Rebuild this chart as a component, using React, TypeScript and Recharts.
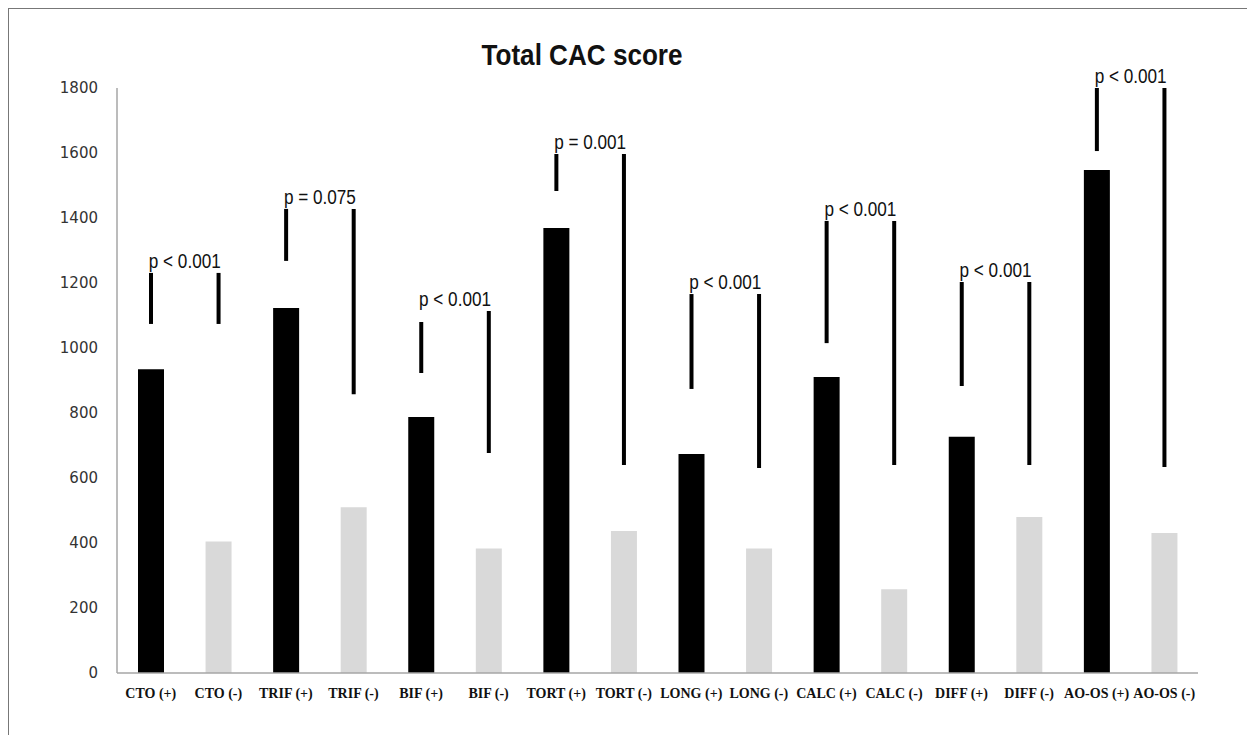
import { ComposedChart, Bar, Cell, XAxis, YAxis, LabelList } from "recharts";

const categories = [
  "CTO (+)", "CTO (-)", "TRIF (+)", "TRIF (-)", "BIF (+)", "BIF (-)", "TORT (+)", "TORT (-)",
  "LONG (+)", "LONG (-)", "CALC (+)", "CALC (-)", "DIFF (+)", "DIFF (-)", "AO-OS (+)", "AO-OS (-)",
];
const scores = [935, 405, 1123, 510, 788, 383, 1369, 437, 674, 383, 911, 258, 727, 480, 1548, 431];
const whiskerLow = [1074, 1074, 1268, 858, 923, 677, 1483, 640, 874, 631, 1015, 640, 883, 640, 1606, 634];
const whiskerHigh = [1231, 1231, 1428, 1428, 1080, 1114, 1597, 1597, 1166, 1166, 1391, 1391, 1203, 1203, 1800, 1800];
const pLabels = ["p < 0.001", "p = 0.075", "p < 0.001", "p = 0.001", "p < 0.001", "p < 0.001", "p < 0.001", "p < 0.001"];
const yTicks = [0, 200, 400, 600, 800, 1000, 1200, 1400, 1600, 1800];

const W = 1247;
const H = 727;
const margin = { top: 80, right: 57, bottom: 32, left: 49 };
const PLOT_W = W - margin.left - margin.right - 60;
const step = PLOT_W / categories.length;

const data = categories.map((name, i) => ({
  name,
  score: scores[i],
  whisker: [whiskerLow[i], whiskerHigh[i]],
}));

// p-value text sits centred over each (+)/(-) pair, just above the taller whisker
const PLabel = (props: any) => {
  const { x, y, width, height, index } = props;
  if (index % 2 === 0) return null;
  const top = Math.min(y, y + height);
  const cx = x + width / 2 - step / 2;
  return (
    <text
      x={cx}
      y={top - 5}
      textAnchor="middle"
      fontFamily="'Liberation Sans', Arial, sans-serif"
      fontSize={20}
      fill="#111"
      textLength={72}
      lengthAdjust="spacingAndGlyphs"
    >
      {pLabels[(index - 1) / 2]}
    </text>
  );
};

export default function App() {
  return (
    <div
      style={{
        position: "relative",
        width: W,
        height: H,
        borderTop: "1px solid #777",
        borderLeft: "1px solid #777",
        boxSizing: "border-box",
        background: "#fff",
      }}
    >
      <ComposedChart width={W} height={H} data={data} margin={margin} style={{ position: "absolute", left: -1, top: -1 }}>
        <XAxis
          dataKey="name"
          xAxisId="main"
          height={30}
          axisLine={{ stroke: "#a6a6a6", strokeWidth: 1.5 }}
          tickLine={false}
          tickMargin={9}
          interval={0}
          tick={{ fontFamily: "'Liberation Serif', 'Times New Roman', serif", fontWeight: 700, fontSize: 14, fill: "#111" }}
        />
        <XAxis dataKey="name" xAxisId="err" orientation="top" height={0} hide />
        <YAxis
          width={60}
          domain={[0, 1800]}
          ticks={yTicks}
          interval={0}
          axisLine={{ stroke: "#a6a6a6", strokeWidth: 1.5 }}
          tickLine={false}
          tickMargin={13}
          tick={{ fontFamily: "'DejaVu Sans', sans-serif", fontSize: 15, fill: "#333" }}
        />
        <Bar dataKey="score" xAxisId="main" barSize={26} isAnimationActive={false}>
          {data.map((_, i) => (
            <Cell key={i} fill={i % 2 === 0 ? "#000000" : "#d9d9d9"} />
          ))}
        </Bar>
        <Bar dataKey="whisker" xAxisId="err" barSize={4} fill="#000" isAnimationActive={false}>
          <LabelList dataKey="whisker" content={PLabel} />
        </Bar>
      </ComposedChart>
      <svg width={W} height={H} style={{ position: "absolute", left: -1, top: -1, pointerEvents: "none" }}>
        <text
          x={574}
          y={57}
          textAnchor="middle"
          fontFamily="'Liberation Sans', Arial, sans-serif"
          fontWeight={700}
          fontSize={30}
          fill="#111"
          textLength={201}
          lengthAdjust="spacingAndGlyphs"
        >
          Total CAC score
        </text>
      </svg>
    </div>
  );
}
